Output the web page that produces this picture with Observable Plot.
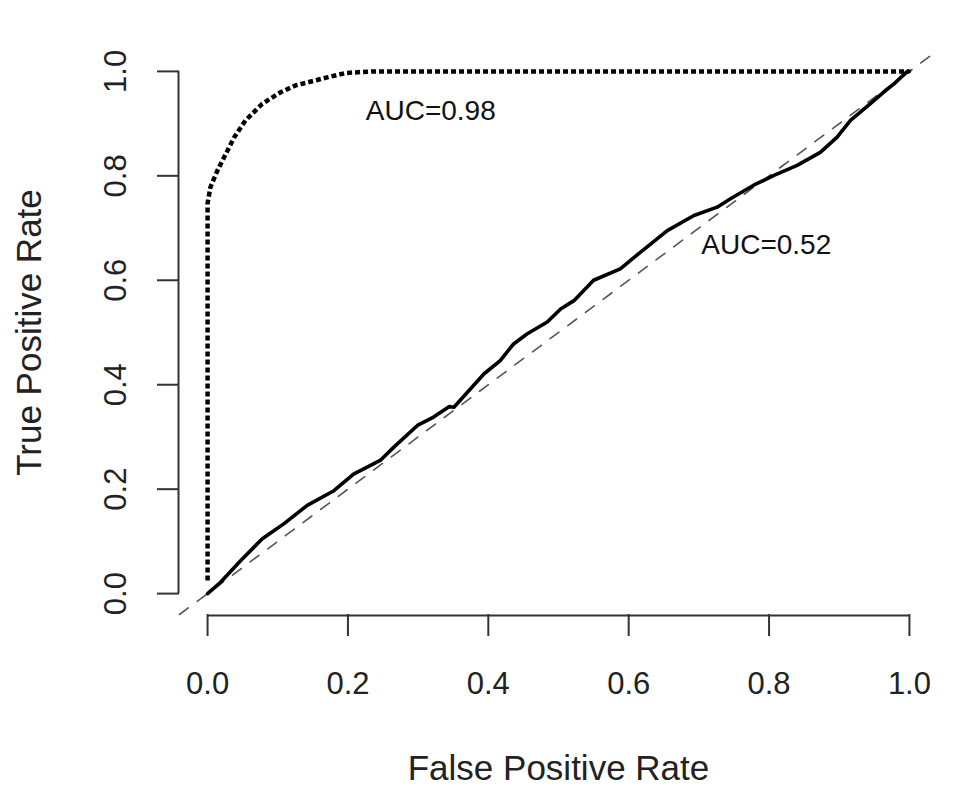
<!DOCTYPE html>
<html>
<head>
<meta charset="utf-8">
<script src="https://cdn.jsdelivr.net/npm/d3@7"></script>
<script src="https://cdn.jsdelivr.net/npm/@observablehq/plot@0.6"></script>
<style>
  html, body { margin: 0; padding: 0; background: #fff; }
  #chart { width: 955px; height: 786px; }
</style>
</head>
<body>
<div id="chart"></div>
<script>
// Tick values shared by both axes
const tickValues = [0, 0.2, 0.4, 0.6, 0.8, 1.0];

// Dotted ROC curve (AUC = 0.98)
const goodFpr = [0, 0, 0, 0.004, 0.014, 0.026, 0.038, 0.054, 0.078, 0.104, 0.125, 0.172, 0.197, 0.235, 1.0];
const goodTpr = [0.025, 0.70, 0.747, 0.778, 0.81, 0.842, 0.874, 0.906, 0.938, 0.960, 0.973, 0.989, 0.997, 1.0, 1.0];

// Solid ROC curve (AUC = 0.52)
const poorFpr = [0, 0.0185, 0.047, 0.078, 0.109, 0.142, 0.180, 0.208, 0.246, 0.265, 0.299, 0.322, 0.344, 0.351,
                 0.394, 0.417, 0.436, 0.455, 0.484, 0.503, 0.522, 0.550, 0.588, 0.617, 0.655, 0.693, 0.726, 0.745,
                 0.778, 0.807, 0.840, 0.873, 0.897, 0.916, 0.944, 0.963, 0.978, 0.997, 1.0];
const poorTpr = [0, 0.0217, 0.063, 0.105, 0.134, 0.169, 0.197, 0.229, 0.255, 0.280, 0.322, 0.338, 0.358, 0.357,
                 0.421, 0.446, 0.478, 0.497, 0.520, 0.545, 0.561, 0.600, 0.622, 0.654, 0.695, 0.724, 0.740, 0.756,
                 0.782, 0.801, 0.820, 0.845, 0.874, 0.906, 0.938, 0.960, 0.976, 1.0, 1.0];

// Chance diagonal spans the whole (padded) plot region
const chanceLine = [-0.04, 1.04];

// Annotations
const aucLabels = ["AUC=0.98", "AUC=0.52"];
const aucX = [0.318, 0.796];
const aucY = [0.925, 0.667];

const xTitle = "False Positive Rate";
const yTitle = "True Positive Rate";

const good = goodFpr.map((x, i) => ({x, y: goodTpr[i]}));
const poor = poorFpr.map((x, i) => ({x, y: poorTpr[i]}));
const fmt = d3.format(".1f");
const font = "'Liberation Sans', Arial, Helvetica, sans-serif";

const chart = Plot.plot({
  width: 955,
  height: 786,
  marginLeft: 179,
  marginRight: 18,
  marginTop: 50,
  marginBottom: 172,
  style: {fontFamily: font, color: "#222", background: "#fff", overflow: "visible"},
  x: {domain: [-0.04, 1.04]},
  y: {domain: [-0.04, 1.04]},
  marks: [
    // chance line
    Plot.line(chanceLine, {x: d => d, y: d => d, stroke: "#555", strokeWidth: 1.6, strokeDasharray: "11,11"}),
    // ROC curves
    Plot.line(good, {x: "x", y: "y", stroke: "#000", strokeWidth: 4.5, strokeDasharray: "5,3", strokeLinecap: "butt", strokeLinejoin: "miter"}),
    Plot.line(poor, {x: "x", y: "y", stroke: "#000", strokeWidth: 3.6, strokeLinejoin: "round", strokeLinecap: "round"}),
    // axis lines (R-style, spanning only the tick range)
    Plot.ruleY([-0.04], {x1: 0, x2: 1, stroke: "#333", strokeWidth: 2, dy: 1}),
    Plot.ruleX([-0.04], {y1: 0, y2: 1, stroke: "#333", strokeWidth: 2, dx: -1}),
    Plot.axisX({ticks: tickValues, tickSize: 22, tickPadding: 35, tickFormat: fmt, fontSize: 31, label: null, stroke: "#333", strokeWidth: 2}),
    Plot.axisY({ticks: tickValues, tickSize: 22, tickPadding: 32, tickRotate: -90, tickFormat: fmt, fontSize: 31, label: null, stroke: "#333", strokeWidth: 2}),
    // axis titles
    Plot.text([xTitle], {x: 0.5, y: -0.04, dy: 154, text: d => d, fontSize: 35, lineAnchor: "middle"}),
    Plot.text([yTitle], {x: -0.04, y: 0.5, dx: -150, rotate: -90, text: d => d, fontSize: 35, lineAnchor: "middle"}),
    // AUC annotations
    Plot.text(aucLabels, {x: (d, i) => aucX[i], y: (d, i) => aucY[i], text: d => d, fontSize: 28, fill: "#111"})
  ]
});

document.getElementById("chart").appendChild(chart);
</script>
</body>
</html>
